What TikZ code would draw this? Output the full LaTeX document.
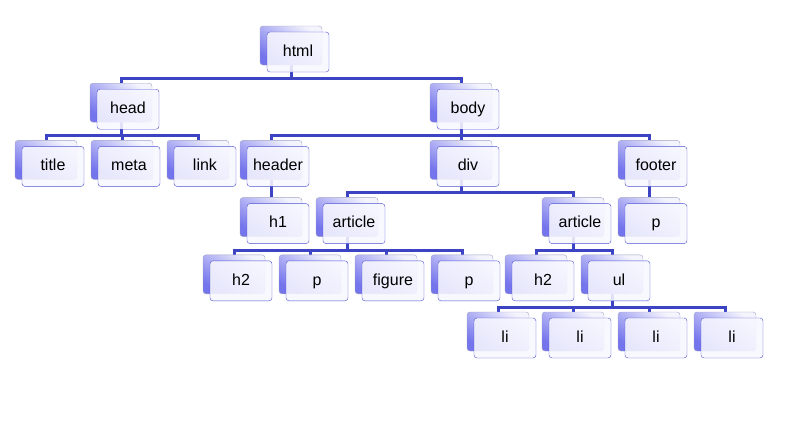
\documentclass[tikz,border=0pt]{standalone}
\usepackage{fontspec}
\setmainfont{Liberation Sans}
\definecolor{linkblue}{HTML}{3C44C4}
\definecolor{boxline}{HTML}{4E52D4}
\definecolor{backline}{HTML}{A0A2C4}
\definecolor{backblue}{HTML}{7474EC}
\pgfdeclarelayer{bg}
\pgfsetlayers{bg,main}
\tikzset{
    backbox/.style={draw=backline,rounded corners=3pt,minimum width=62pt,minimum height=39pt,inner sep=0pt,
        top color=white!92!backblue,bottom color=backblue,shading angle=-35},
    frontbox/.style={draw=boxline,rounded corners=3pt,minimum width=62pt,minimum height=40pt,inner sep=0pt,
        fill=white!97!blue,fill opacity=0.88,text opacity=1,text height=12pt,text depth=3.5pt,
        font=\fontsize{16}{19}\selectfont},
    link/.style={draw=linkblue,line width=3pt}
}
% name, x, level, text
\newcommand{\elem}[4]{
    \node[backbox] at (#2,{45.5+57.2*#3})(#1-b){};
    \node[frontbox] at ([shift={(7pt,-6.5pt)}]#1-b.center)(#1){#4};
}
% parent, child
\newcommand{\tie}[2]{
    \draw[link] (#1-b.center) |- ([yshift=4.5pt]#2-b.north) -- (#2-b.north);
}
\begin{document}
\begin{tikzpicture}[x=1pt,y=-1pt]
    \useasboundingbox (0,0) rectangle (786,423);
    \elem{html}{291}{0}{html}
    \elem{head}{121}{1}{head}
    \elem{body}{461}{1}{body}
    \elem{title}{46}{2}{title}
    \elem{meta}{122}{2}{meta}
    \elem{link}{198}{2}{link}
    \elem{header}{271}{2}{header}
    \elem{div}{461}{2}{div}
    \elem{footer}{649}{2}{footer}
    \elem{hone}{271}{3}{h1}
    \elem{arta}{347}{3}{article}
    \elem{artb}{573}{3}{article}
    \elem{pfoot}{649}{3}{p}
    \elem{h2a}{234}{4}{h2}
    \elem{pa}{310}{4}{p}
    \elem{figure}{386}{4}{figure}
    \elem{pb}{462}{4}{p}
    \elem{h2b}{536}{4}{h2}
    \elem{ul}{612}{4}{ul}
    \foreach \x [count=\i] in {498,573,649,725}{
        \elem{li\i}{\x}{5}{li}
    }
    \begin{pgfonlayer}{bg}
        \tie{html}{head} \tie{html}{body}
        \tie{head}{title} \tie{head}{meta} \tie{head}{link}
        \tie{body}{header} \tie{body}{div} \tie{body}{footer}
        \tie{header}{hone}
        \tie{div}{arta} \tie{div}{artb}
        \tie{footer}{pfoot}
        \tie{arta}{h2a} \tie{arta}{pa} \tie{arta}{figure} \tie{arta}{pb}
        \tie{artb}{h2b} \tie{artb}{ul}
        \foreach \i in {1,...,4}{
            \tie{ul}{li\i}
        }
    \end{pgfonlayer}
\end{tikzpicture}
\end{document}
